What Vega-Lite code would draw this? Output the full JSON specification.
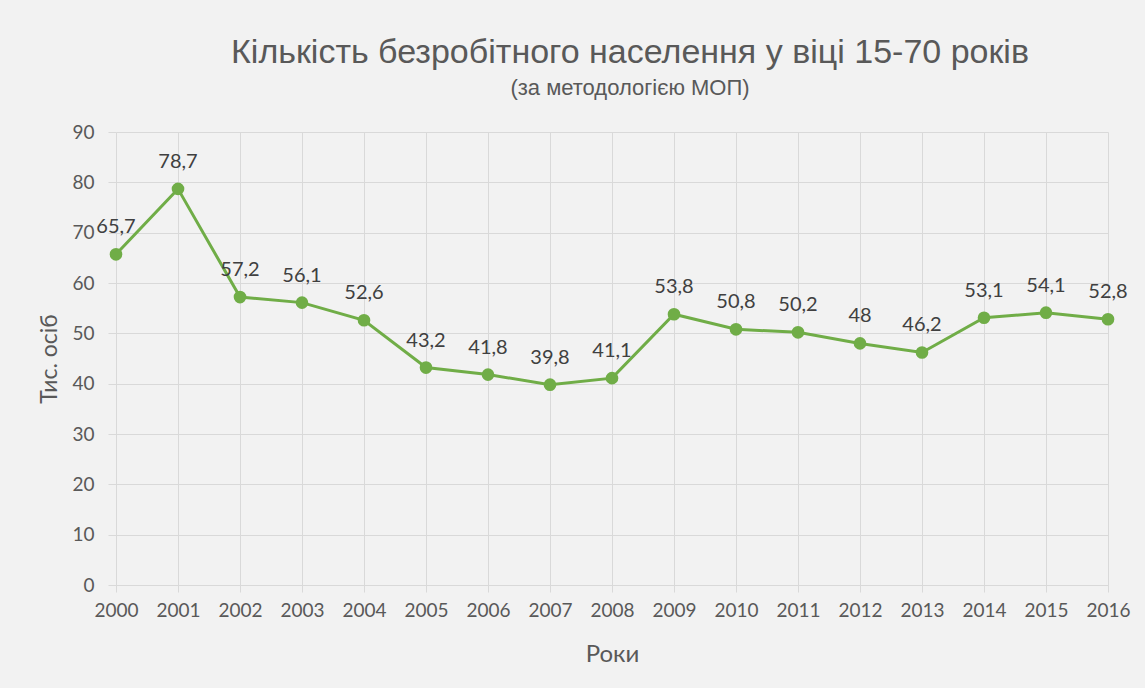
{
  "$schema": "https://vega.github.io/schema/vega-lite/v6.json",
  "width": 992,
  "height": 453,
  "autosize": {"type": "none"},
  "padding": {"left": 116, "top": 132, "right": 37, "bottom": 103},
  "background": "#f2f2f2",
  "config": {
    "locale": {"number": {"decimal": ",", "thousands": " ", "grouping": [3], "currency": ["", ""]}},
    "view": {"stroke": null},
    "font": "Lato"
  },
  "title": {
    "text": "Кількість безробітного населення у віці 15-70 років",
    "subtitle": "(за методологією МОП)",
    "anchor": "middle",
    "dx": 18,
    "offset": 24,
    "font": "Liberation Sans",
    "fontSize": 34,
    "fontWeight": "normal",
    "color": "#595959",
    "subtitleFont": "Liberation Sans",
    "subtitleFontSize": 22,
    "subtitleColor": "#595959",
    "subtitlePadding": 8
  },
  "data": {
    "values": [
      {"year": 2000, "value": 65.7},
      {"year": 2001, "value": 78.7},
      {"year": 2002, "value": 57.2},
      {"year": 2003, "value": 56.1},
      {"year": 2004, "value": 52.6},
      {"year": 2005, "value": 43.2},
      {"year": 2006, "value": 41.8},
      {"year": 2007, "value": 39.8},
      {"year": 2008, "value": 41.1},
      {"year": 2009, "value": 53.8},
      {"year": 2010, "value": 50.8},
      {"year": 2011, "value": 50.2},
      {"year": 2012, "value": 48.0},
      {"year": 2013, "value": 46.2},
      {"year": 2014, "value": 53.1},
      {"year": 2015, "value": 54.1},
      {"year": 2016, "value": 52.8}
    ]
  },
  "encoding": {
    "x": {
      "field": "year",
      "type": "quantitative",
      "scale": {"domain": [2000, 2016], "nice": false, "zero": false},
      "axis": {
        "values": [2000, 2001, 2002, 2003, 2004, 2005, 2006, 2007, 2008, 2009, 2010, 2011, 2012, 2013, 2014, 2015, 2016],
        "format": "d",
        "title": "Роки",
        "titleFont": "Lato",
        "titleFontSize": 24,
        "titleFontWeight": "normal",
        "titleColor": "#595959",
        "titlePadding": 22,
        "labelFontSize": 19,
        "labelColor": "#595959",
        "labelPadding": 9,
        "labelFlush": false,
        "labelOverlap": false,
        "tickSize": 7,
        "tickColor": "#d9d9d9",
        "domainColor": "#d9d9d9",
        "gridColor": "#d9d9d9",
        "grid": true
      }
    },
    "y": {
      "field": "value",
      "type": "quantitative",
      "scale": {"domain": [0, 90], "nice": false},
      "axis": {
        "values": [0, 10, 20, 30, 40, 50, 60, 70, 80, 90],
        "title": "Тис. осіб",
        "titleFont": "Lato",
        "titleFontSize": 23,
        "titleFontWeight": "normal",
        "titleColor": "#595959",
        "titlePadding": 10,
        "labelFontSize": 19,
        "labelColor": "#595959",
        "labelPadding": 14,
        "tickSize": 8,
        "tickColor": "#d9d9d9",
        "domain": false,
        "gridColor": "#d9d9d9",
        "grid": true
      }
    }
  },
  "layer": [
    {"mark": {"type": "line", "color": "#70ad47", "strokeWidth": 3}},
    {"mark": {"type": "point", "filled": true, "color": "#70ad47", "size": 160, "opacity": 1}},
    {
      "mark": {"type": "text", "dy": -27, "fontSize": 20, "color": "#404040", "font": "Lato"},
      "encoding": {"text": {"field": "value", "type": "quantitative", "format": ".1~f"}}
    }
  ]
}
